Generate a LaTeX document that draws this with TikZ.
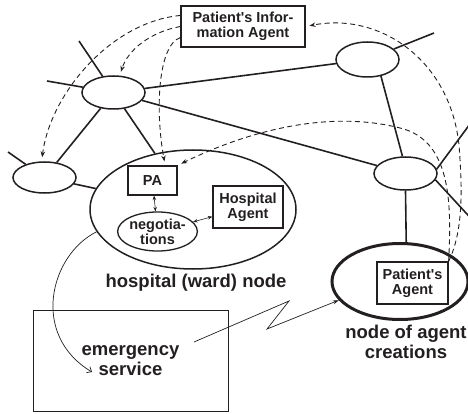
\documentclass[tikz,border=0pt]{standalone}
\usepackage{fontspec}
\setmainfont{Liberation Sans}
\usetikzlibrary{arrows.meta,shapes.geometric}
\definecolor{ink}{HTML}{231F20}

\begin{document}
\begin{tikzpicture}[x=1pt,y=-1pt,font=\bfseries\fontsize{14.5}{15}\selectfont,text=ink,
  ov/.style={ellipse,draw=ink,line width=1.5pt,inner sep=0pt},
  bx/.style={draw=ink,line width=1.2pt,inner sep=0pt,align=center},
  ln/.style={draw=ink,line width=1.6pt},
  da/.style={draw=ink,line width=0.9pt,dash pattern=on 5pt off 3.5pt,-{Stealth[length=6pt,width=4.5pt]},shorten >=4pt},
  ar/.style={draw=ink,line width=0.7pt,-{Stealth[length=6pt,width=4pt]}},
  arv/.style={draw=ink,line width=0.7pt,-{Straight Barb[length=4pt,width=7pt]}},
  sa/.style={draw=ink,line width=0.6pt,{Stealth[length=4.5pt,width=3.5pt]}-{Stealth[length=4.5pt,width=3.5pt]}},
  big/.style={font=\bfseries\fontsize{18.5}{20.3}\selectfont,align=center}]
\useasboundingbox (0,0) rectangle (468,414);
% network nodes
\node[bx,minimum width=124pt,minimum height=41pt] (pia) at (243,26.5) {Patient\textquotesingle s Infor-\\mation Agent};
\node[ov,minimum width=63pt,minimum height=33pt] (na) at (113.5,92.5) {};
\node[ov,minimum width=63pt,minimum height=31pt] (nb) at (44.5,177.5) {};
\node[ov,minimum width=63pt,minimum height=35pt] (nc) at (367.5,59.5) {};
\node[ov,minimum width=63pt,minimum height=33pt] (nd) at (405.5,173.5) {};
\node[ov,minimum width=206pt,minimum height=119pt] (hosp) at (193,209.5) {};
\node[bx,minimum width=49pt,minimum height=29pt] (pa) at (152.5,180.5) {PA};
\node[ov,line width=1.3pt,minimum width=71pt,minimum height=39pt,align=center] (neg) at (157.5,231.5) {negotia-\\tions};
\node[bx,minimum width=70pt,minimum height=42pt] (ha) at (248,207) {Hospital\\Agent};
\node[ov,line width=3pt,minimum width=136pt,minimum height=76pt] (cre) at (400,281.5) {};
\node[bx,minimum width=71pt,minimum height=42pt] (pag) at (412.5,283) {Patient\textquotesingle s\\Agent};
\node[bx,big,line width=0.8pt,minimum width=195pt,minimum height=101pt] (emg) at (130.5,360.5) {emergency\\service};
\node[big,anchor=base] (hl) at (196,287) {hospital (ward) node};
\node[big] (cl) at (406,342) {node of agent\\creations};
% free ends
\coordinate (e1) at (79,41); \coordinate (e2) at (47,81); \coordinate (e3) at (8,152);
\coordinate (e4) at (434,33); \coordinate (e5) at (470,124); \coordinate (e6) at (472,219.5);
\coordinate (es) at (92,372); \coordinate (zs) at (194,342);
% links
\foreach \a/\b in {na/nc,na/nd,na/hosp,na/nb,nb/hosp,na/e1,na/e2,nb/e3,nc/e4} {\draw[ln] (\a) -- (\b);}
\draw[ln] (nd.8) -- (e5); \draw[ln] (nd.-12) -- (e6);
\draw[ln] (nc.-51) -- (nd.100); \draw[ln] (nd.south) -- (cre.81);
% agent moves
\draw[da] (pia.170) .. controls (110,22) and (50,95) .. (nb.100);
\draw[da] (pia.180) .. controls (150,32) and (128,50) .. (na.70);
\draw[da] (pia.190) .. controls (158,45) and (155,110) .. (pa.50);
\draw[da] (pag.north east) .. controls (452,200) and (450,140) .. (400,128) .. controls (330,110) and (250,130) .. (pa.north east);
\draw[da] (pag.north east) .. controls (464,230) and (462,185) .. (459,145) .. controls (450,60) and (380,12) .. (pia.east);
\draw[arv] (hosp.193) .. controls (50,255) and (30,335) .. (es);
\draw[ar] (zs) -- (289,301) -- (267,329) -- (cre.197);
\draw[sa] (pa) -- (neg); \draw[sa] (neg) -- (ha);
\end{tikzpicture}
\end{document}
